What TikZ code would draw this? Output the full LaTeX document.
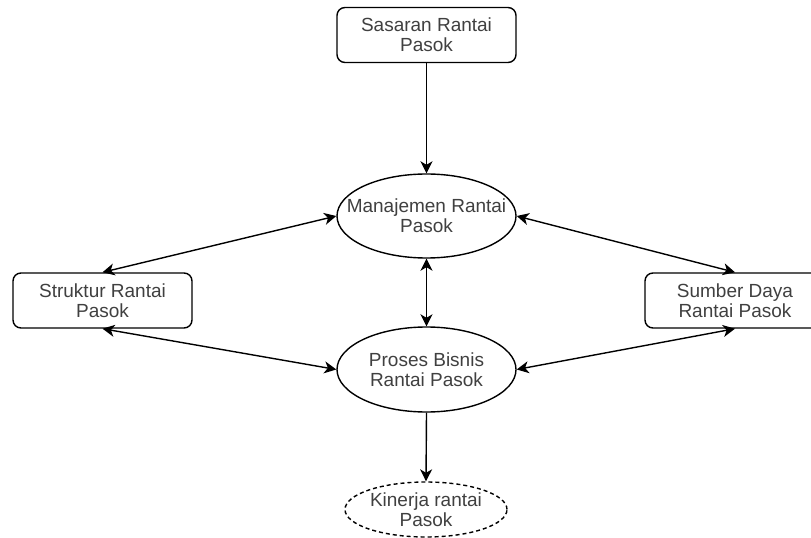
\documentclass[tikz,border=0pt]{standalone}
\usepackage{fontspec}
\setmainfont{Liberation Sans}
\usetikzlibrary{shapes.geometric,arrows.meta}
\begin{document}
\begin{tikzpicture}[x=1bp,y=-1bp,
  every node/.style={line width=1.4bp},
  lbl/.style={align=center,text=black!75,font=\fontsize{19bp}{20bp}\selectfont,inner sep=0pt},
  rbox/.style={draw,rectangle,rounded corners=8bp,minimum width=179bp,minimum height=55bp,inner sep=0pt},
  elli/.style={draw,ellipse,minimum width=179bp,minimum height=84bp,inner sep=0pt},
  tip/.style={Stealth[length=12bp,width=12bp,inset=3.5bp]},
  conn/.style={line width=1.4bp,-{Stealth[length=12bp,width=12bp,inset=3.5bp]}},
  bconn/.style={line width=1.4bp,{Stealth[length=12bp,width=12bp,inset=3.5bp]}-{Stealth[length=12bp,width=12bp,inset=3.5bp]}}
]
\useasboundingbox (0,0) rectangle (811,538);
\clip (0,0) rectangle (811,538);
\fill[white] (0,0) rectangle (811,538);

\node[rbox, label={[lbl]center:Sasaran Rantai\\Pasok}] (sasaran) at (426.5,35) {};
\node[elli, label={[lbl]center:Manajemen Rantai\\Pasok}] (manaj) at (426.5,216) {};
\node[elli, minimum height=85bp, label={[lbl]center:Proses Bisnis\\Rantai Pasok}] (proses) at (426.5,369.5) {};
\node[elli, dashed, dash pattern=on 4bp off 3bp, minimum width=162bp, minimum height=55bp, label={[lbl]center:Kinerja rantai\\Pasok}] (kinerja) at (426,509.5) {};
\node[rbox, label={[lbl]center:Struktur Rantai\\Pasok}] (struktur) at (102.5,300.5) {};
\node[rbox, minimum width=180bp, label={[lbl]center:Sumber Daya\\Rantai Pasok}] (sumber) at (735,300.5) {};

\draw[conn] (sasaran.south) -- (manaj.north);
\draw[bconn] (manaj.south) -- (proses.north);
\draw[conn] (proses.south) -- (kinerja.north);
\draw[bconn] (struktur.north) -- (manaj.west);
\draw[bconn] (struktur.south) -- (proses.west);
\draw[bconn] (sumber.north) -- (manaj.east);
\draw[bconn] (sumber.south) -- (proses.east);
\end{tikzpicture}
\end{document}
